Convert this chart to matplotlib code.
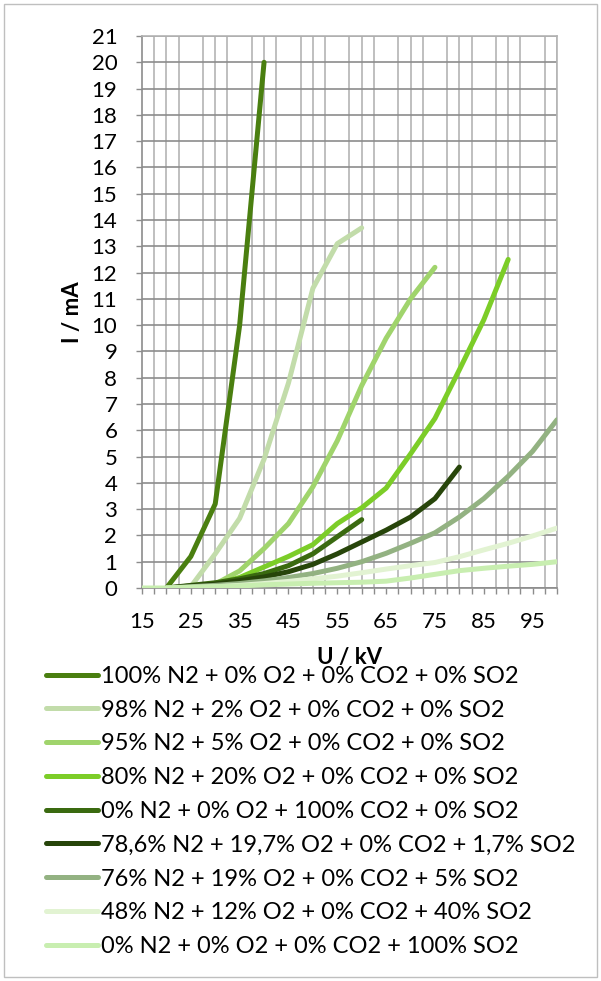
import numpy as np
import matplotlib
matplotlib.use('Agg')
import matplotlib.pyplot as plt
from matplotlib.patches import Rectangle

plt.rcParams['font.family'] = ['Lato', 'DejaVu Sans']

# U / kV and I / mA for each gas mixture
labels = [
    "100% N2 + 0% O2 + 0% CO2 + 0% SO2",
    "98% N2 + 2% O2 + 0% CO2 + 0% SO2",
    "95% N2 + 5% O2 + 0% CO2 + 0% SO2",
    "80% N2 + 20% O2 + 0% CO2 + 0% SO2",
    "0% N2 + 0% O2 + 100% CO2 + 0% SO2",
    "78,6% N2 + 19,7% O2 + 0% CO2 + 1,7% SO2",
    "76% N2 + 19% O2 + 0% CO2 + 5% SO2",
    "48% N2 + 12% O2 + 0% CO2 + 40% SO2",
    "0% N2 + 0% O2 + 0% CO2 + 100% SO2",
]
colors = ['#4a7f10', '#c2dcaa', '#a0d46c', '#7ccd28', '#3a6a10',
          '#27450a', '#93b282', '#e2f3d2', '#c8eeb0']

u_n2 = [20, 25, 30, 35, 40]
i_n2 = [0, 1.2, 3.2, 10, 20]

u_o2_2 = [25, 30, 35, 40, 45, 50, 55, 60]
i_o2_2 = [0.05, 1.3, 2.65, 4.9, 7.8, 11.4, 13.1, 13.7]

u_o2_5 = [30, 35, 40, 45, 50, 55, 60, 65, 70, 75]
i_o2_5 = [0.15, 0.65, 1.5, 2.45, 3.85, 5.6, 7.7, 9.5, 11.0, 12.2]

u_o2_20 = [25, 30, 35, 40, 45, 50, 55, 60, 65, 70, 75, 80, 85, 90]
i_o2_20 = [0.05, 0.15, 0.4, 0.8, 1.2, 1.65, 2.45, 3.05, 3.8, 5.1, 6.45, 8.3, 10.2, 12.5]

u_co2 = [20, 25, 30, 35, 40, 45, 50, 55, 60]
i_co2 = [0, 0.1, 0.2, 0.35, 0.55, 0.85, 1.3, 1.95, 2.6]

u_so2_17 = [20, 25, 30, 35, 40, 45, 50, 55, 60, 65, 70, 75, 80]
i_so2_17 = [0, 0.08, 0.15, 0.28, 0.42, 0.62, 0.9, 1.3, 1.75, 2.2, 2.7, 3.4, 4.6]

u_so2_5 = [20, 25, 30, 35, 40, 45, 50, 55, 60, 65, 70, 75, 80, 85, 90, 95, 100]
i_so2_5 = [0, 0.05, 0.1, 0.17, 0.27, 0.4, 0.55, 0.75, 1.0, 1.32, 1.7, 2.1, 2.7, 3.4, 4.25, 5.2, 6.4]

u_so2_40 = [20, 25, 30, 35, 40, 45, 50, 55, 60, 65, 70, 75, 80, 85, 90, 95, 100]
i_so2_40 = [0, 0.02, 0.05, 0.1, 0.17, 0.25, 0.35, 0.45, 0.58, 0.72, 0.85, 0.97, 1.19, 1.45, 1.7, 1.98, 2.28]

u_so2_100 = [15, 20, 25, 30, 35, 40, 45, 50, 55, 60, 65, 70, 75, 80, 85, 90, 95, 100]
i_so2_100 = [0, 0, 0.03, 0.05, 0.08, 0.12, 0.15, 0.18, 0.2, 0.22, 0.26, 0.38, 0.52, 0.66, 0.75, 0.83, 0.9, 1.0]

series = [(u_n2, i_n2), (u_o2_2, i_o2_2), (u_o2_5, i_o2_5), (u_o2_20, i_o2_20),
          (u_co2, i_co2), (u_so2_17, i_so2_17), (u_so2_5, i_so2_5),
          (u_so2_40, i_so2_40), (u_so2_100, i_so2_100)]

fig = plt.figure(figsize=(6.01, 9.81), dpi=100)
fig.patches.append(Rectangle((4 / 601, 4 / 981), 593 / 601, 973 / 981,
                             transform=fig.transFigure, fill=False,
                             edgecolor='#bfbfbf', lw=1.0))

ax = fig.add_axes([142 / 601, 1 - 588 / 981, 415 / 601, 552 / 981])

for (u, i), lab, c in zip(series, labels, colors):
    ax.plot(u, i, color=c, lw=3.6, label=lab,
            solid_capstyle='round', solid_joinstyle='round', zorder=3)

ax.set_xlim(15, 100)
ax.set_ylim(0, 21)
ax.set_xticks(np.arange(15, 96, 10))
ax.set_xticks(np.arange(15, 100.1, 2.5), minor=True)
ax.set_yticks(np.arange(0, 22, 1))

ax.grid(True, axis='x', which='minor', color='#b4b4b4', lw=1.2, zorder=1)
ax.grid(True, axis='y', which='major', color='#8c8c8c', lw=1.2, zorder=1)
ax.set_axisbelow(True)

ax.tick_params(axis='x', which='both', length=4.3, width=1, color='#8c8c8c',
               labelsize=16, pad=13)
ax.tick_params(axis='y', length=4.3, width=1, color='#8c8c8c',
               labelsize=16, pad=13.5)
for s in ax.spines.values():
    s.set_color('#8c8c8c')
    s.set_linewidth(1.2)
ax.spines['top'].set_color('#b4b4b4')
ax.spines['right'].set_color('#b4b4b4')

ax.set_xlabel('U / kV', fontsize=16, fontweight='bold', labelpad=11)
ax.set_ylabel('I / mA', fontsize=16, fontweight='bold', labelpad=6)

handles, labs = ax.get_legend_handles_labels()
fig.legend(handles, labs, loc='upper left', bbox_to_anchor=(46 / 601, 1 - 666 / 981),
           frameon=False, fontsize=17, handlelength=2.2, handletextpad=0.15,
           labelspacing=0.54, borderpad=0, borderaxespad=0)

fig.savefig('out.png', dpi=100)
